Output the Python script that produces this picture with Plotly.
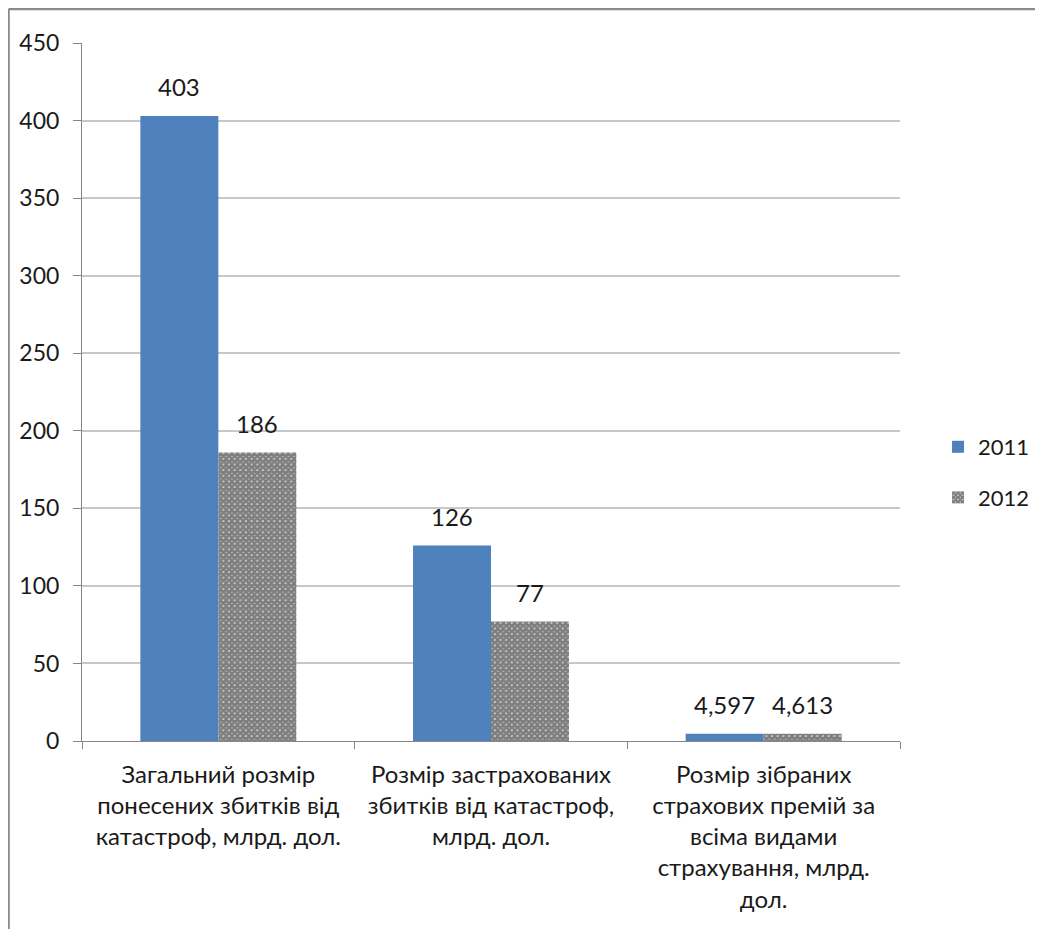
import plotly.graph_objects as go

categories = [
    "Загальний розмір<br>понесених збитків від<br>катастроф, млрд. дол.",
    "Розмір застрахованих<br>збитків від катастроф,<br>млрд. дол.",
    "Розмір зібраних<br>страхових премій за<br>всіма видами<br>страхування, млрд.<br>дол.",
]
series_names = ["2011", "2012"]
values_2011 = [403, 126, 4.597]
values_2012 = [186, 77, 4.613]
y_ticks = [0, 50, 100, 150, 200, 250, 300, 350, 400, 450]

FONT = "Lato, 'Open Sans', sans-serif"
TXT = "#1a1a1a"


def fmt(v):
    return f"{v:g}".replace(".", ",")


fig = go.Figure()
fig.add_trace(go.Bar(
    name=series_names[0], x=categories, y=values_2011,
    marker=dict(color="#4F81BD", line=dict(width=0)),
    legendgroup="a",
))
fig.add_trace(go.Bar(
    name=series_names[1], x=categories, y=values_2012,
    marker=dict(color="white", line=dict(width=0),
                pattern=dict(shape="x", fgcolor="#000000", bgcolor="white",
                             size=4, solidity=0.9)),
    legendgroup="b",
))

annotations = []
for vals, shift in ((values_2011, -39), (values_2012, 39)):
    for c, v in zip(categories, vals):
        annotations.append(dict(
            x=c, y=v, xref="x", yref="y", text=fmt(v), showarrow=False,
            xshift=shift, yshift=29, yanchor="middle",
            font=dict(family=FONT, size=24, color=TXT),
        ))

# outer frame (left and top edges)
shapes = [
    dict(type="line", xref="paper", yref="paper", x0=-0.0898, x1=1.3,
         y0=1.0487, y1=1.0487, line=dict(color="#8a8a8a", width=2.5)),
    dict(type="line", xref="paper", yref="paper", x0=-0.0898, x1=-0.0898,
         y0=1.0487, y1=-0.3, line=dict(color="#8a8a8a", width=2.5)),
]

fig.update_layout(
    width=1043, height=929,
    margin=dict(l=74, r=151, t=35, b=196),
    paper_bgcolor="white", plot_bgcolor="white",
    barmode="group", bargap=0.428, bargroupgap=0,
    separators=", ",
    font=dict(family=FONT, size=24, color=TXT),
    showlegend=True,
    legend=dict(x=1.0465, y=0.4513, xanchor="left", yanchor="top",
                font=dict(family=FONT, size=22, color=TXT),
                traceorder="grouped", tracegroupgap=19,
                bgcolor="rgba(0,0,0,0)"),
    annotations=annotations,
    shapes=shapes,
)
fig.update_xaxes(
    type="category", tickson="boundaries", ticks="outside", ticklen=7,
    tickcolor="#868686", showline=True, linecolor="#868686", linewidth=1,
    showgrid=False, tickfont=dict(family=FONT, size=24, color=TXT),
    tickangle=0, ticklabelstandoff=12,
)
fig.update_yaxes(
    range=[0, 450], tickvals=y_ticks, ticks="outside", ticklen=8,
    tickcolor="#868686", showline=True, linecolor="#868686", linewidth=1,
    showgrid=True, gridcolor="#c8c8c8", gridwidth=1.5,
    tickfont=dict(family=FONT, size=23, color=TXT), zeroline=False,
    ticklabelstandoff=9,
)

fig.write_html("out.html")
